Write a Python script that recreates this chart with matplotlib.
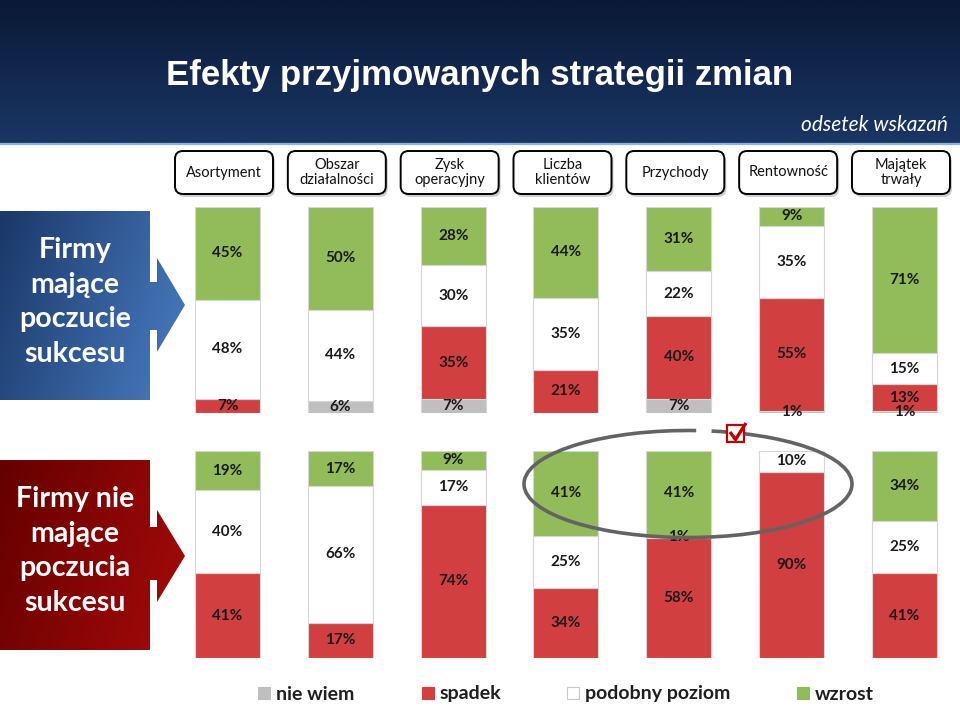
"""Stacked 100% bars: effects of change strategies, firms with vs without a sense of success."""

import matplotlib

matplotlib.use("Agg")
import matplotlib.pyplot as plt
import numpy as np
from matplotlib.colors import LinearSegmentedColormap
from matplotlib.patches import Arc, FancyBboxPatch, Polygon, Rectangle

plt.rcParams["font.family"] = ["Lato", "DejaVu Sans"]

categories = ["Asortyment", "Obszar\ndziałalności", "Zysk\noperacyjny", "Liczba\nklientów",
              "Przychody", "Rentowność", "Majątek\ntrwały"]
series = ["nie wiem", "spadek", "podobny poziom", "wzrost"]
colors = ["#bfbfbf", "#d13f40", "#ffffff", "#92bb5a"]

# firms with a sense of success (stacked bottom -> top)
succ_nie_wiem = [0, 6, 7, 0, 7, 1, 1]
succ_spadek = [7, 0, 35, 21, 40, 55, 13]
succ_podobny = [48, 44, 30, 35, 22, 35, 15]
succ_wzrost = [45, 50, 28, 44, 31, 9, 71]

# firms without a sense of success
fail_nie_wiem = [0, 0, 0, 0, 0, 0, 0]
fail_spadek = [41, 17, 74, 34, 58, 90, 41]
fail_podobny = [40, 66, 17, 25, 1, 10, 25]
fail_wzrost = [19, 17, 9, 41, 41, 0, 34]

W, H = 960, 707
FIRST_CX, STEP = 227.5, 112.83  # bar centre layout in pixels


def px_axes(fig, top, bottom):
    left = FIRST_CX - STEP / 2
    return fig.add_axes([left / W, 1 - bottom / H, 7 * STEP / W, (bottom - top) / H])


def draw_panel(ax, stacks):
    x = np.arange(len(categories))
    base = np.zeros(len(categories))
    for vals, col in zip(stacks, colors):
        vals = np.array(vals, dtype=float)
        m = vals > 0
        ax.bar(x[m], vals[m], bottom=base[m], width=0.576, color=col,
               edgecolor="#d6d6d6", linewidth=0.8)
        for xi, b, v in zip(x[m], base[m], vals[m]):
            ax.text(xi, b + v / 2, f"{int(v)}%", ha="center", va="center",
                    fontsize=11, fontweight="bold", color="#1a1a1a", clip_on=False)
        base += vals
    ax.set_xlim(-0.5, 6.5)
    ax.set_ylim(0, 100)
    ax.axis("off")


def gradient_shape(ax, verts, c0, c1):
    poly = Polygon(verts, closed=True, facecolor="none", edgecolor="none")
    ax.add_patch(poly)
    xs = [v[0] for v in verts]
    ys = [v[1] for v in verts]
    gx, gy = np.meshgrid(np.linspace(0, 1, 200), np.linspace(0, 1, 200))
    grad = 0.75 * gx + 0.25 * gy
    cmap = LinearSegmentedColormap.from_list("g", [c0, c1])
    im = ax.imshow(grad, cmap=cmap, extent=(min(xs), max(xs), max(ys), min(ys)),
                   aspect="auto", zorder=1)
    im.set_clip_path(poly)


fig = plt.figure(figsize=(W / 100, H / 100), dpi=100)
deco = fig.add_axes([0, 0, 1, 1])
deco.set_xlim(0, W)
deco.set_ylim(H, 0)
deco.axis("off")

# header band
hdr = LinearSegmentedColormap.from_list("hdr", ["#0a1936", "#1a3665"])
deco.imshow(np.linspace(0, 1, 100).reshape(-1, 1), cmap=hdr, extent=(0, W, 143, 0),
            aspect="auto", zorder=0)
deco.plot([0, W], [143.5, 143.5], color="#8fb2d6", lw=1.6, zorder=1)
deco.text(480, 76, "Efekty przyjmowanych strategii zmian", ha="center", va="center",
          fontsize=25, fontweight="bold", color="white",
          family=["Liberation Sans Narrow", "Liberation Sans"])
deco.text(948, 125, "odsetek wskazań", ha="right", va="center", fontsize=15,
          style="italic", color="white")

# category boxes
for i, cat in enumerate(categories):
    cx = FIRST_CX + i * STEP - 3.5
    deco.add_patch(FancyBboxPatch((cx - 49 + 2, 152 + 2), 98, 43,
                                  boxstyle="round,pad=0,rounding_size=8",
                                  facecolor="#cfcfcf", edgecolor="none", zorder=1))
    deco.add_patch(FancyBboxPatch((cx - 49, 151), 98, 43,
                                  boxstyle="round,pad=0,rounding_size=8",
                                  facecolor="white", edgecolor="black", lw=1.4, zorder=2))
    deco.text(cx, 172.5, cat, ha="center", va="center", fontsize=10.5, color="#111111",
              linespacing=1.15, zorder=3)

# row labels with arrows
blue = [(0, 211), (150, 211), (150, 282), (157, 282), (157, 258), (185, 305),
        (157, 352), (157, 330), (150, 330), (150, 400), (0, 400)]
gradient_shape(deco, blue, "#1a3868", "#4a7dc3")
deco.text(75, 302, "Firmy\nmające\npoczucie\nsukcesu", ha="center", va="center",
          fontsize=20.5, fontweight="bold", color="white", linespacing=1.4, zorder=3)

red = [(0, 460), (150, 460), (150, 527), (157, 527), (157, 510), (185, 556),
       (157, 602), (157, 580), (150, 580), (150, 650), (0, 650)]
gradient_shape(deco, red, "#650000", "#a60a0a")
deco.text(75, 551, "Firmy nie\nmające\npoczucia\nsukcesu", ha="center", va="center",
          fontsize=20.5, fontweight="bold", color="white", linespacing=1.4, zorder=3)

# legend
leg_x = [258, 422, 567, 797]
for xs, name, col in zip(leg_x, series, colors):
    deco.add_patch(Rectangle((xs, 687), 12, 12, facecolor=col, edgecolor="#c8c8c8"
                             if col == "#ffffff" else col, lw=0.8))
    deco.text(xs + 18, 694, name, ha="left", va="center", fontsize=14,
              fontweight="bold", color="#1f1f1f")

# bar panels
top_ax = px_axes(fig, 207, 413)
draw_panel(top_ax, [succ_nie_wiem, succ_spadek, succ_podobny, succ_wzrost])
bot_ax = px_axes(fig, 451, 658)
draw_panel(bot_ax, [fail_nie_wiem, fail_spadek, fail_podobny, fail_wzrost])

# highlight ellipse + check box
over = fig.add_axes([0, 0, 1, 1], zorder=10)
over.set_xlim(0, W)
over.set_ylim(H, 0)
over.axis("off")
over.add_patch(Arc((688, 484), 328, 107, theta1=294, theta2=278.7,
                   color="#636363", lw=2.6))
over.add_patch(Rectangle((727, 425), 17, 17, facecolor="white", edgecolor="#c00000", lw=1.6))
over.plot([730, 735.5, 746], [432, 439.5, 423], color="#c00000", lw=2.4,
          solid_capstyle="butt")

fig.savefig("out.png", dpi=100)
